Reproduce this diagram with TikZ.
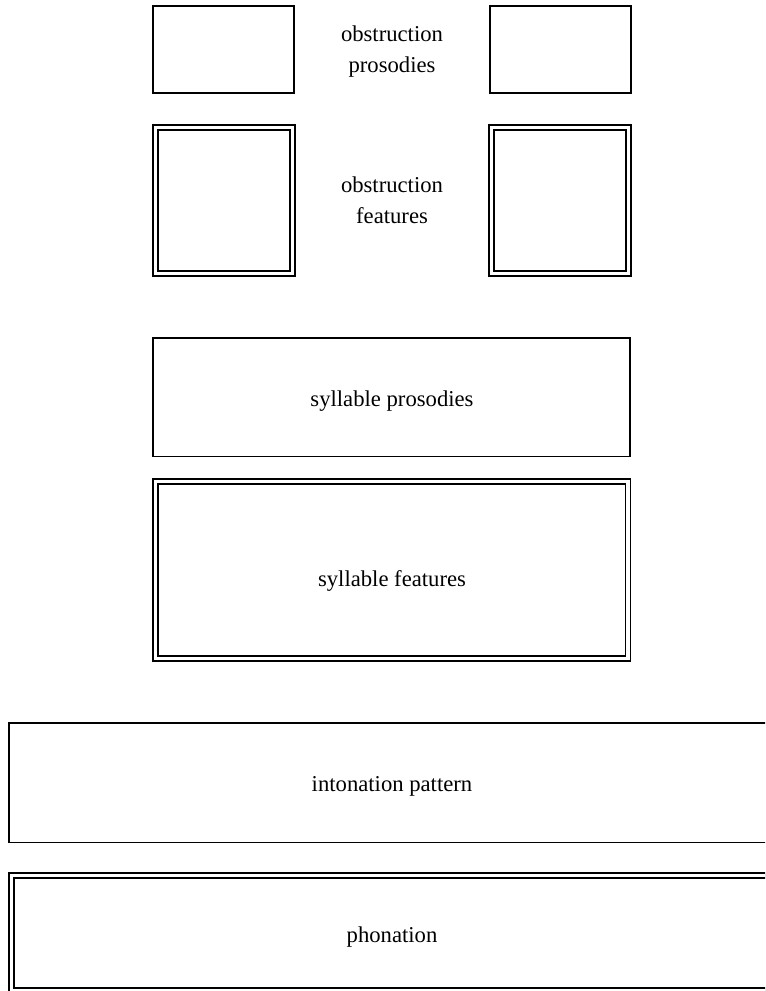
\documentclass[tikz,border=0pt]{standalone}
\usepackage{fontspec}
\setmainfont{Liberation Serif}
\usepackage{tikz}
\usetikzlibrary{positioning}

\tikzset{
    single/.style={draw, line width=1.2pt, inner sep=0pt},
    dbl/.style={draw, line width=1.2pt, double, double distance=2.55pt, inner sep=0pt},
    lbl/.style={inner sep=0pt, align=center, font=\fontsize{17}{23.25}\selectfont}
}

\begin{document}
\begin{tikzpicture}[x=0.75pt, y=-0.75pt]
    % page frame
    \useasboundingbox (0,0) rectangle (765,991);
    \clip (0,0) rectangle (765,991);
    % obstruction prosodies
    \node[single, minimum width=105.75pt, minimum height=65.25pt] (obsprosL) at (223.5,49.5) {};
    \node[single, minimum width=105.75pt, minimum height=65.25pt] (obsprosR) at (560.5,49.5) {};
    \node[lbl] (obsprostxt) at (392,52) {obstruction\\prosodies};
    % obstruction features
    \node[dbl, minimum width=102.75pt, minimum height=109.5pt] (obsfeatL) at (224,200.5) {};
    \node[dbl, minimum width=102.75pt, minimum height=109.5pt] (obsfeatR) at (560,200.5) {};
    \node[lbl] (obsfeattxt) at (392,200) {obstruction\\features};
    % syllable
    \node[single, minimum width=357.75pt, minimum height=88.9pt] (sylpros) at (391.5,397.3) {};
    \node[lbl, anchor=base] (sylprostxt) at (392,406) {syllable prosodies};
    \node[dbl, minimum width=354.4pt, minimum height=132.9pt] (sylfeat) at (391.75,570.1) {};
    \node[lbl, anchor=base] (sylfeattxt) at (392,586) {syllable features};
    % utterance
    \node[single, minimum width=574.5pt, minimum height=89.7pt] (inton) at (392,782.5) {};
    \node[lbl, anchor=base] (intontxt) at (392,791) {intonation pattern};
    \node[dbl, minimum width=571pt, minimum height=86.5pt] (phon) at (392,932.9) {};
    \node[lbl, anchor=base] (phontxt) at (392,942) {phonation};
\end{tikzpicture}
\end{document}
